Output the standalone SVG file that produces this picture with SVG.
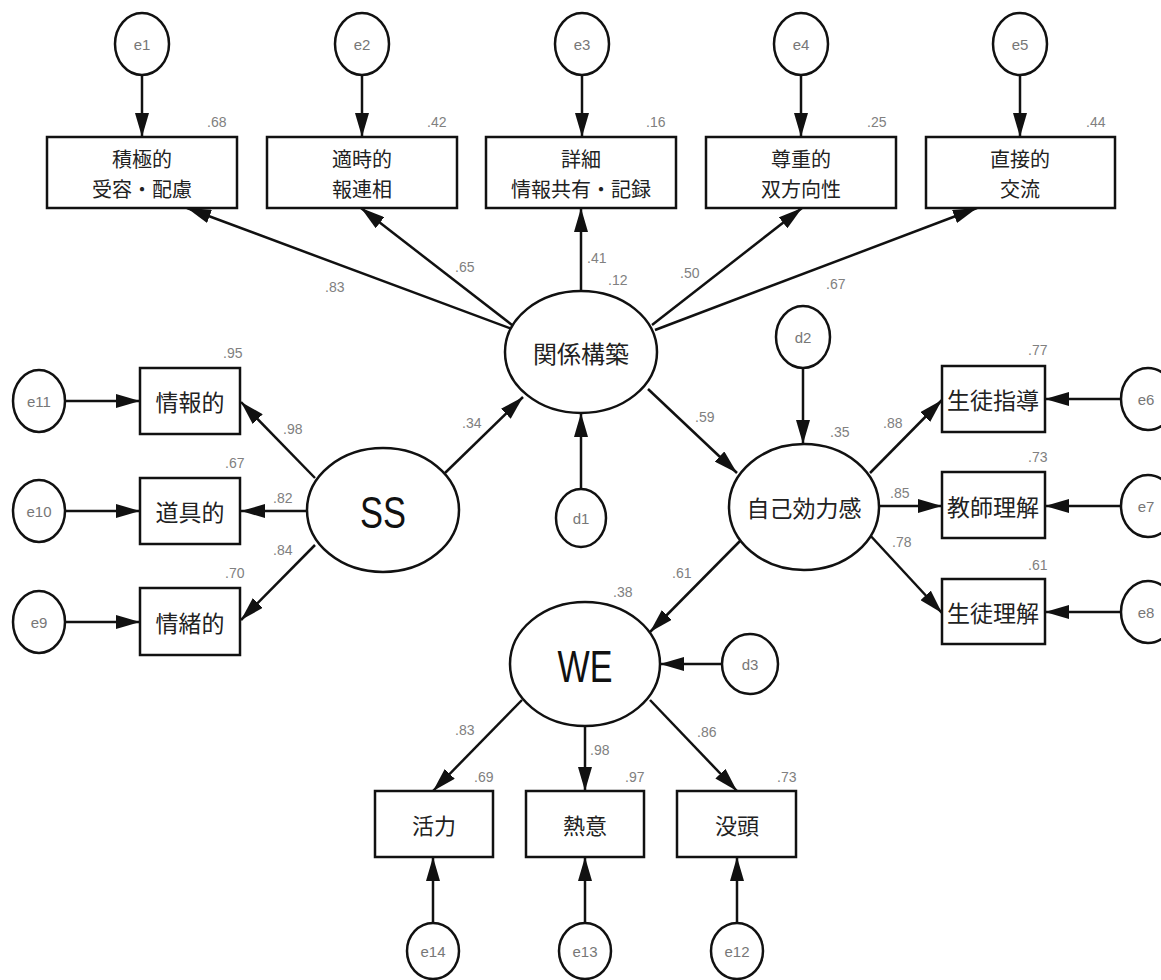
<svg xmlns="http://www.w3.org/2000/svg" width="1161" height="980" viewBox="0 0 1161 980">
<defs>
<marker id="ah" markerUnits="userSpaceOnUse" markerWidth="24" markerHeight="14" viewBox="0 0 24 14" refX="24" refY="7" orient="auto">
<path d="M0,0 L24,7 L0,14 z" fill="#111"/>
</marker>
<style>
.n{fill:#fff;stroke:#111;stroke-width:2.5}
.t{font-family:"Noto Sans CJK JP","Liberation Sans",sans-serif;font-size:22px;fill:#222;text-anchor:middle;dominant-baseline:central}
.t2{font-family:"Noto Sans CJK JP","Liberation Sans",sans-serif;font-size:20px;fill:#222;text-anchor:middle;dominant-baseline:central}
.big{font-family:"Liberation Sans",sans-serif;font-size:44px;fill:#111;text-anchor:middle;dominant-baseline:central}
.e{font-family:"Liberation Sans",sans-serif;font-size:15px;fill:#777;text-anchor:middle;dominant-baseline:central}
.c{font-family:"Liberation Sans",sans-serif;font-size:14px;fill:#808080}
.l{stroke:#111;stroke-width:2.5;fill:none;marker-end:url(#ah)}
</style>
</defs>
<rect width="1161" height="980" fill="#fff"/>
<g id="connectors">
<line class="l" x1="142" y1="75" x2="142" y2="137"/>
<line class="l" x1="362" y1="75" x2="362" y2="137"/>
<line class="l" x1="582" y1="75" x2="582" y2="137"/>
<line class="l" x1="801" y1="75" x2="801" y2="137"/>
<line class="l" x1="1020" y1="75" x2="1020" y2="137"/>
<line class="l" x1="512" y1="329" x2="187" y2="208"/>
<line class="l" x1="512" y1="325" x2="361" y2="208"/>
<line class="l" x1="581" y1="291" x2="581" y2="208"/>
<line class="l" x1="652" y1="325" x2="802" y2="208"/>
<line class="l" x1="655" y1="330" x2="977" y2="208"/>
<line class="l" x1="445" y1="473" x2="523" y2="397"/>
<line class="l" x1="581" y1="489" x2="581" y2="413"/>
<line class="l" x1="648" y1="389" x2="737" y2="473"/>
<line class="l" x1="803" y1="368" x2="803" y2="444"/>
<line class="l" x1="870" y1="473" x2="942" y2="400"/>
<line class="l" x1="879" y1="506" x2="942" y2="506"/>
<line class="l" x1="868" y1="533" x2="942" y2="613"/>
<line class="l" x1="1121" y1="399" x2="1045" y2="399"/>
<line class="l" x1="1121" y1="506" x2="1045" y2="506"/>
<line class="l" x1="1121" y1="612" x2="1045" y2="612"/>
<line class="l" x1="315" y1="478" x2="241" y2="402"/>
<line class="l" x1="307" y1="511" x2="241" y2="511"/>
<line class="l" x1="315" y1="545" x2="241" y2="620"/>
<line class="l" x1="65" y1="401" x2="140" y2="401"/>
<line class="l" x1="65" y1="511" x2="140" y2="511"/>
<line class="l" x1="65" y1="622" x2="140" y2="622"/>
<line class="l" x1="741" y1="540" x2="650" y2="632"/>
<line class="l" x1="722" y1="664" x2="660" y2="664"/>
<line class="l" x1="522" y1="700" x2="433" y2="791"/>
<line class="l" x1="585" y1="727" x2="585" y2="791"/>
<line class="l" x1="650" y1="700" x2="737" y2="791"/>
<line class="l" x1="433" y1="923" x2="433" y2="857"/>
<line class="l" x1="585" y1="923" x2="585" y2="857"/>
<line class="l" x1="737" y1="923" x2="737" y2="857"/>
</g>
<g id="coefficients">
<text class="c" x="207" y="127">.68</text>
<text class="c" x="427" y="127">.42</text>
<text class="c" x="646" y="127">.16</text>
<text class="c" x="867" y="127">.25</text>
<text class="c" x="1086" y="127">.44</text>
<text class="c" x="325" y="292">.83</text>
<text class="c" x="455" y="272">.65</text>
<text class="c" x="587" y="263">.41</text>
<text class="c" x="608" y="285">.12</text>
<text class="c" x="680" y="278">.50</text>
<text class="c" x="826" y="289">.67</text>
<text class="c" x="462" y="428">.34</text>
<text class="c" x="695" y="422">.59</text>
<text class="c" x="223" y="358">.95</text>
<text class="c" x="283" y="434">.98</text>
<text class="c" x="225" y="468">.67</text>
<text class="c" x="273" y="503">.82</text>
<text class="c" x="273" y="555">.84</text>
<text class="c" x="225" y="578">.70</text>
<text class="c" x="1028" y="355">.77</text>
<text class="c" x="883" y="428">.88</text>
<text class="c" x="830" y="437">.35</text>
<text class="c" x="1028" y="462">.73</text>
<text class="c" x="890" y="498">.85</text>
<text class="c" x="892" y="547">.78</text>
<text class="c" x="1028" y="570">.61</text>
<text class="c" x="672" y="578">.61</text>
<text class="c" x="613" y="597">.38</text>
<text class="c" x="455" y="735">.83</text>
<text class="c" x="590" y="755">.98</text>
<text class="c" x="697" y="737">.86</text>
<text class="c" x="474" y="782">.69</text>
<text class="c" x="625" y="782">.97</text>
<text class="c" x="777" y="782">.73</text>
</g>
<g id="e1"><ellipse class="n" cx="142" cy="44" rx="27" ry="31"/><text class="e" x="142" y="44">e1</text></g>
<g id="e2"><ellipse class="n" cx="362" cy="44" rx="27" ry="31"/><text class="e" x="362" y="44">e2</text></g>
<g id="e3"><ellipse class="n" cx="582" cy="44" rx="27" ry="31"/><text class="e" x="582" y="44">e3</text></g>
<g id="e4"><ellipse class="n" cx="801" cy="44" rx="27" ry="31"/><text class="e" x="801" y="44">e4</text></g>
<g id="e5"><ellipse class="n" cx="1020" cy="44" rx="27" ry="31"/><text class="e" x="1020" y="44">e5</text></g>
<g id="box1"><rect class="n" x="47" y="137" width="190" height="71"/><text class="t2" x="142" y="158">積極的</text><text class="t2" x="142" y="188">受容・配慮</text></g>
<g id="box2"><rect class="n" x="267" y="137" width="190" height="71"/><text class="t2" x="362" y="158">適時的</text><text class="t2" x="362" y="188">報連相</text></g>
<g id="box3"><rect class="n" x="486" y="137" width="190" height="71"/><text class="t2" x="581" y="158">詳細</text><text class="t2" x="581" y="188">情報共有・記録</text></g>
<g id="box4"><rect class="n" x="706" y="137" width="190" height="71"/><text class="t2" x="801" y="158">尊重的</text><text class="t2" x="801" y="188">双方向性</text></g>
<g id="box5"><rect class="n" x="926" y="137" width="189" height="71"/><text class="t2" x="1020" y="158">直接的</text><text class="t2" x="1020" y="188">交流</text></g>
<g id="kankei"><ellipse class="n" cx="581" cy="352" rx="76" ry="61"/><text class="t" x="581" y="352" style="font-size:24px">関係構築</text></g>
<g id="SS"><ellipse class="n" cx="383" cy="510" rx="76" ry="62"/><text class="big" x="383" y="512" textLength="46" lengthAdjust="spacingAndGlyphs">SS</text></g>
<g id="d1"><ellipse class="n" cx="581" cy="518" rx="25" ry="29"/><text class="e" x="581" y="518">d1</text></g>
<g id="jiko"><ellipse class="n" cx="804" cy="507" rx="75" ry="63"/><text class="t" x="804" y="507" style="font-size:23px">自己効力感</text></g>
<g id="d2"><ellipse class="n" cx="803" cy="337" rx="27" ry="31"/><text class="e" x="803" y="337">d2</text></g>
<g id="joho"><rect class="n" x="140" y="368" width="100" height="66"/><text class="t" x="190" y="401" style="font-size:23px">情報的</text></g>
<g id="dogu"><rect class="n" x="140" y="478" width="100" height="66"/><text class="t" x="190" y="511" style="font-size:23px">道具的</text></g>
<g id="jocho"><rect class="n" x="140" y="588" width="100" height="67"/><text class="t" x="190" y="622" style="font-size:23px">情緒的</text></g>
<g id="e11"><ellipse class="n" cx="39" cy="401" rx="26" ry="31"/><text class="e" x="39" y="401">e11</text></g>
<g id="e10"><ellipse class="n" cx="39" cy="511" rx="26" ry="31"/><text class="e" x="39" y="511">e10</text></g>
<g id="e9"><ellipse class="n" cx="39" cy="622" rx="26" ry="31"/><text class="e" x="39" y="622">e9</text></g>
<g id="seitoshido"><rect class="n" x="942" y="366" width="103" height="66"/><text class="t" x="993" y="399" style="font-size:23px">生徒指導</text></g>
<g id="kyoshirikai"><rect class="n" x="942" y="472" width="103" height="66"/><text class="t" x="993" y="506" style="font-size:23px">教師理解</text></g>
<g id="seitorikai"><rect class="n" x="942" y="579" width="103" height="65"/><text class="t" x="993" y="612" style="font-size:23px">生徒理解</text></g>
<g id="e6"><ellipse class="n" cx="1148" cy="399" rx="27" ry="31"/><text class="e" x="1146" y="399">e6</text></g>
<g id="e7"><ellipse class="n" cx="1148" cy="506" rx="27" ry="31"/><text class="e" x="1146" y="506">e7</text></g>
<g id="e8"><ellipse class="n" cx="1148" cy="612" rx="27" ry="31"/><text class="e" x="1146" y="612">e8</text></g>
<g id="WE"><ellipse class="n" cx="585" cy="664" rx="75" ry="62"/><text class="big" x="585" y="666" textLength="55" lengthAdjust="spacingAndGlyphs">WE</text></g>
<g id="d3"><ellipse class="n" cx="750" cy="664" rx="28" ry="30"/><text class="e" x="750" y="664">d3</text></g>
<g id="katsuryoku"><rect class="n" x="375" y="791" width="118" height="66"/><text class="t" x="434" y="824">活力</text></g>
<g id="netsui"><rect class="n" x="526" y="791" width="118" height="66"/><text class="t" x="585" y="824">熱意</text></g>
<g id="botto"><rect class="n" x="677" y="791" width="119" height="66"/><text class="t" x="737" y="824">没頭</text></g>
<g id="e14"><ellipse class="n" cx="433" cy="951" rx="26" ry="28"/><text class="e" x="433" y="951">e14</text></g>
<g id="e13"><ellipse class="n" cx="585" cy="951" rx="26" ry="28"/><text class="e" x="585" y="951">e13</text></g>
<g id="e12"><ellipse class="n" cx="737" cy="951" rx="26" ry="28"/><text class="e" x="737" y="951">e12</text></g>
</svg>
